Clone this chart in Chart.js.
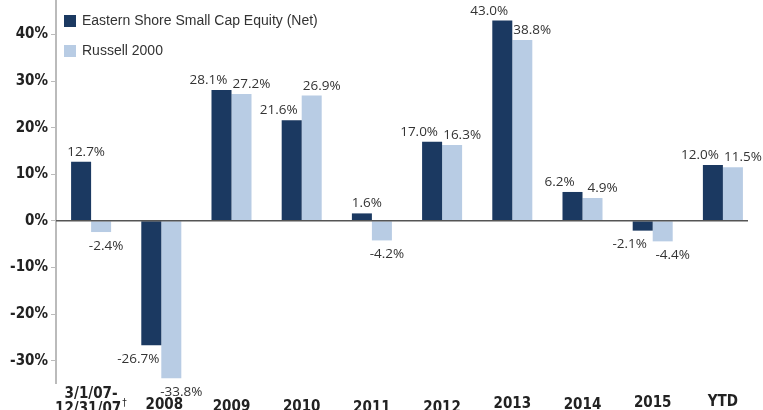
<!DOCTYPE html>
<html>
<head>
<meta charset="utf-8">
<script src="https://cdn.jsdelivr.net/npm/chart.js@4.4.1/dist/chart.umd.min.js"></script>
<style>
  body { margin: 0; background: #fff; }
  canvas { display: block; }
</style>
</head>
<body>
<canvas id="perfChart" width="763" height="410"></canvas>
<script>
// data
const categories = [['3/1/07-', '12/31/07'], '2008', '2009', '2010', '2011', '2012', '2013', '2014', '2015', 'YTD'];
const fundReturns = [12.7, -26.7, 28.1, 21.6, 1.6, 17.0, 43.0, 6.2, -2.1, 12.0];
const russellReturns = [-2.4, -33.8, 27.2, 26.9, -4.2, 16.3, 38.8, 4.9, -4.4, 11.5];
const seriesNames = ['Eastern Shore Small Cap Equity (Net)', 'Russell 2000'];

const DARK = '#1b3961';
const LIGHT = '#b8cce4';
const condensed = "'Liberation Sans Narrow', 'DejaVu Sans Condensed', 'Liberation Sans', sans-serif";

// labels above / below each bar
const valueLabels = {
  id: 'valueLabels',
  afterDatasetsDraw(chart) {
    const ctx = chart.ctx;
    ctx.save();
    ctx.font = "13.5px 'Open Sans', sans-serif";
    ctx.fillStyle = '#333';
    ctx.textAlign = 'center';
    chart.data.datasets.forEach((ds, di) => {
      const meta = chart.getDatasetMeta(di);
      meta.data.forEach((bar, i) => {
        const v = ds.data[i];
        const other = chart.data.datasets[1 - di].data[i];
        let dx = 5;
        if (Math.sign(v) === Math.sign(other)) {
          dx = di === 0 ? -13 : 10;
        }
        if (v >= 0) {
          ctx.textBaseline = 'alphabetic';
          ctx.fillText(v.toFixed(1) + '%', bar.x + dx, bar.y - 6);
        } else {
          ctx.textBaseline = 'top';
          ctx.fillText(v.toFixed(1) + '%', bar.x + dx, bar.y + 7);
        }
      });
    });
    // zero line
    const y0 = chart.scales.y.getPixelForValue(0);
    ctx.strokeStyle = '#555';
    ctx.lineWidth = 1.5;
    ctx.beginPath();
    ctx.moveTo(chart.chartArea.left, y0);
    ctx.lineTo(chart.chartArea.right - 10, y0);
    ctx.stroke();
    ctx.restore();
  }
};

// category labels, slightly staggered as in the original
const categoryLabels = {
  id: 'categoryLabels',
  afterDraw(chart) {
    const ctx = chart.ctx;
    const x = chart.scales.x;
    const baselines = [398, 409, 411, 411, 412, 412, 408, 409, 407, 406];
    ctx.save();
    ctx.font = 'bold 15px ' + condensed;
    ctx.fillStyle = '#222';
    ctx.textAlign = 'center';
    ctx.textBaseline = 'alphabetic';
    categories.forEach((lab, i) => {
      const px = x.getPixelForValue(i);
      if (Array.isArray(lab)) {
        ctx.fillText(lab[0], px, baselines[i]);
        ctx.fillText(lab[1], px - 3, baselines[i] + 15);
        const w = ctx.measureText(lab[1]).width;
        ctx.save();
        ctx.font = '10px ' + condensed;
        ctx.textAlign = 'left';
        ctx.fillText('\u2020', px - 3 + w / 2 + 1, baselines[i] + 8);
        ctx.restore();
      } else {
        ctx.fillText(lab, px + (i === 1 ? 3 : 0), baselines[i]);
      }
    });
    ctx.restore();
  }
};

// legend in the top left corner
const cornerLegend = {
  id: 'cornerLegend',
  afterDraw(chart) {
    const ctx = chart.ctx;
    ctx.save();
    ctx.font = "14px 'Liberation Sans', Arial, sans-serif";
    ctx.textBaseline = 'middle';
    [DARK, LIGHT].forEach((c, i) => {
      const y = 21 + i * 30;
      ctx.fillStyle = c;
      ctx.fillRect(64, y - 6, 12, 12);
      ctx.fillStyle = '#333';
      ctx.fillText(seriesNames[i], 82, y);
    });
    ctx.restore();
  }
};

new Chart(document.getElementById('perfChart'), {
  type: 'bar',
  data: {
    labels: categories,
    datasets: [
      { label: seriesNames[0], data: fundReturns, backgroundColor: DARK },
      { label: seriesNames[1], data: russellReturns, backgroundColor: LIGHT }
    ]
  },
  options: {
    responsive: false,
    animation: false,
    layout: { padding: { top: 0, right: 5, bottom: 27, left: 0 } },
    datasets: {
      bar: { barPercentage: 1, categoryPercentage: 0.57 }
    },
    plugins: {
      legend: { display: false },
      tooltip: { enabled: false }
    },
    scales: {
      x: { display: false },
      y: {
        min: -34.8,
        max: 47.4,
        afterBuildTicks(scale) {
          scale.ticks = scale.ticks.filter(t => Math.abs(t.value % 10) < 1e-6);
        },
        afterFit(scale) {
          scale.width = 56;
          scale.paddingTop = 0;
          scale.paddingBottom = 0;
        },
        ticks: {
          stepSize: 10,
          padding: 3,
          color: '#222',
          font: { family: condensed, size: 15, weight: 'bold' },
          callback: v => v + '%'
        },
        grid: { drawOnChartArea: false, drawTicks: true, tickLength: 5, color: '#bbb' },
        border: { color: '#bbb', width: 2 }
      }
    }
  },
  plugins: [valueLabels, categoryLabels, cornerLegend]
});
</script>
</body>
</html>
